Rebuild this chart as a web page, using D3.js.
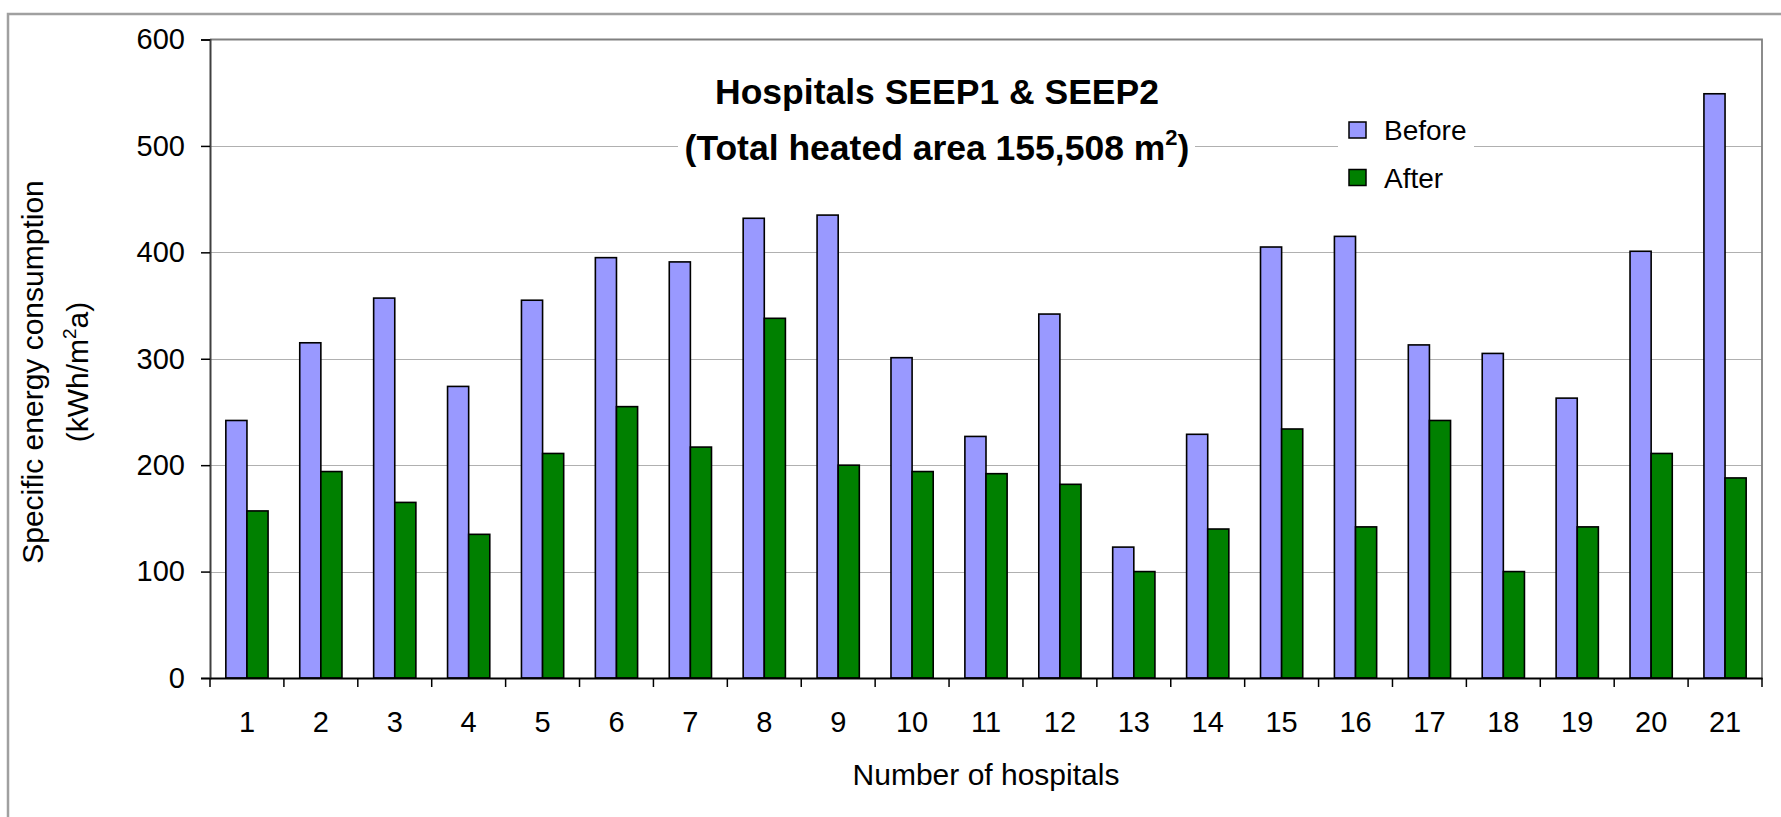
<!DOCTYPE html>
<html><head><meta charset="utf-8">
<script src="https://cdn.jsdelivr.net/npm/d3@7/dist/d3.min.js"></script>
<style>
body{margin:0;background:#fff}
svg{display:block}
text{font-family:"Liberation Sans",Arial,sans-serif;fill:#000}
</style>
</head><body>
<svg id="chart" width="1781" height="817"></svg>
<script>
// ---- data ----
const hospitals = ["1","2","3","4","5","6","7","8","9","10","11","12","13","14","15","16","17","18","19","20","21"];
const beforeValues = [242, 315, 357, 274, 355, 395, 391, 432, 435, 301, 227, 342, 123, 229, 405, 415, 313, 305, 263, 401, 549];
const afterValues  = [157, 194, 165, 135, 211, 255, 217, 338, 200, 194, 192, 182, 100, 140, 234, 142, 242, 100, 142, 211, 188];
const yTickValues = [0, 100, 200, 300, 400, 500, 600];
const seriesNames = ["Before", "After"];
const seriesColors = ["#9999ff", "#008000"];
const titleLine1 = "Hospitals SEEP1 & SEEP2";
const xAxisTitle = "Number of hospitals";

// ---- layout ----
const plot = {left: 210, right: 1762, top: 39.5, bottom: 678};
const svg = d3.select("#chart");

// outer frame
svg.append("rect").attr("x", 8).attr("y", 14).attr("width", 1800).attr("height", 900)
  .attr("fill", "none").attr("stroke", "#a0a0a0").attr("stroke-width", 2.5);

const x = d3.scaleBand().domain(hospitals).range([plot.left, plot.right]).padding(0);
const xs = d3.scaleBand().domain(seriesNames).range([0, x.bandwidth()]).paddingInner(0).paddingOuter(0.75);
const y = d3.scaleLinear().domain([0, 600]).range([plot.bottom, plot.top]);
const color = d3.scaleOrdinal().domain(seriesNames).range(seriesColors);

// gridlines
svg.append("g").selectAll("line").data(yTickValues.filter(v => v > 0 && v < 600)).join("line")
  .attr("x1", plot.left).attr("x2", plot.right)
  .attr("y1", d => Math.round(y(d)) + 0.5).attr("y2", d => Math.round(y(d)) + 0.5)
  .attr("stroke", "#b0b0b0").attr("stroke-width", 1.2);

// plot border (top & right)
svg.append("path")
  .attr("d", `M${plot.left},${y(600)}H${plot.right}V${plot.bottom}`)
  .attr("fill", "none").attr("stroke", "#808080").attr("stroke-width", 1.8);

// title background + title
const tg = svg.append("g");
tg.append("rect").attr("x", 678).attr("y", 64).attr("width", 517).attr("height", 108).attr("fill", "#fff");
tg.append("text").attr("x", 937).attr("y", 104).attr("text-anchor", "middle")
  .attr("font-size", 35.5).attr("font-weight", "bold").text(titleLine1);
const t2 = tg.append("text").attr("x", 937).attr("y", 160).attr("text-anchor", "middle")
  .attr("font-size", 35.5).attr("font-weight", "bold");
t2.append("tspan").text("(Total heated area 155,508 m");
t2.append("tspan").attr("font-size", 22).attr("dy", -15).text("2");
t2.append("tspan").attr("dy", 15).text(")");

// legend
const lg = svg.append("g");
lg.append("rect").attr("x", 1338).attr("y", 106).attr("width", 136).attr("height", 96).attr("fill", "#fff");
seriesNames.forEach((s, i) => {
  const cy = 130 + i * 47.5;
  lg.append("rect").attr("x", 1349).attr("y", cy - 8).attr("width", 17).attr("height", 16)
    .attr("fill", color(s)).attr("stroke", "#000").attr("stroke-width", 1.5);
  lg.append("text").attr("x", 1384).attr("y", cy + 10).attr("font-size", 28).text(s);
});

// bars
const rows = hospitals.map((h, i) => ({h, values: [beforeValues[i], afterValues[i]]}));
const groups = svg.append("g").selectAll("g").data(rows).join("g")
  .attr("transform", d => `translate(${x(d.h)},0)`);
groups.selectAll("rect").data(d => d.values.map((v, j) => ({s: seriesNames[j], v}))).join("rect")
  .attr("x", d => xs(d.s)).attr("width", xs.bandwidth())
  .attr("y", d => y(d.v)).attr("height", d => y(0) - y(d.v))
  .attr("fill", d => color(d.s)).attr("stroke", "#000").attr("stroke-width", 1.6);

// y axis
const yAxis = svg.append("g").attr("transform", `translate(${plot.left},0)`)
  .call(d3.axisLeft(y).tickValues(yTickValues).tickSize(9).tickPadding(16).tickFormat(d3.format("d")));
yAxis.select(".domain").attr("stroke", "#404040").attr("stroke-width", 2);
yAxis.selectAll(".tick line").attr("stroke", "#000").attr("stroke-width", 1.5);
yAxis.selectAll("text").attr("font-size", 29).attr("font-family", "Liberation Sans, Arial, sans-serif").attr("fill", "#000");

// x axis
const xAxis = svg.append("g").attr("transform", `translate(0,${plot.bottom})`)
  .call(d3.axisBottom(x).tickSize(0).tickPadding(33));
xAxis.select(".domain").attr("stroke", "#000").attr("stroke-width", 1.8);
xAxis.selectAll("text").attr("font-size", 29).attr("font-family", "Liberation Sans, Arial, sans-serif").attr("fill", "#000");
const boundaries = hospitals.map(h => x(h)).concat([x.range()[1]]);
xAxis.append("g").selectAll("line").data(boundaries).join("line")
  .attr("x1", d => d).attr("x2", d => d).attr("y1", 0).attr("y2", 9)
  .attr("stroke", "#000").attr("stroke-width", 1.5);

// axis titles
svg.append("text").attr("x", (plot.left + plot.right) / 2).attr("y", 785).attr("text-anchor", "middle")
  .attr("font-size", 30).text(xAxisTitle);
const yl = svg.append("g").attr("transform", "translate(0,372) rotate(-90)");
yl.append("text").attr("x", 0).attr("y", 43).attr("text-anchor", "middle").attr("font-size", 30)
  .text("Specific energy consumption");
const yl2 = yl.append("text").attr("x", 0).attr("y", 88).attr("text-anchor", "middle").attr("font-size", 30);
yl2.append("tspan").text("(kWh/m");
yl2.append("tspan").attr("font-size", 19).attr("dy", -12).text("2");
yl2.append("tspan").attr("dy", 12).text("a)");
</script>
</body></html>
